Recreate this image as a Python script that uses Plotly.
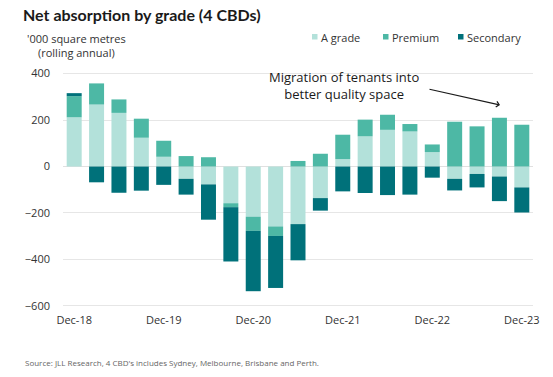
import plotly.graph_objects as go

quarters = ["Dec-18", "Mar-19", "Jun-19", "Sep-19", "Dec-19", "Mar-20", "Jun-20", "Sep-20",
            "Dec-20", "Mar-21", "Jun-21", "Sep-21", "Dec-21", "Mar-22", "Jun-22", "Sep-22",
            "Dec-22", "Mar-23", "Jun-23", "Sep-23", "Dec-23"]
a_grade = [212, 267, 231, 124, 42, -53, -77, -158, -216, -258, -248, -136, 32, 130, 158, 151,
           62, -53, -32, -43, -90]
premium = [91, 91, 58, 82, 69, 45, 40, -17, -61, -41, 24, 55, 105, 72, 65, 32,
           33, 193, 173, 210, 180]
secondary = [13, -68, -113, -104, -79, -68, -152, -234, -260, -224, -156, -54, -107, -114, -123, -121,
             -48, -50, -58, -106, -108]
tick_labels = ["Dec-18", "Dec-19", "Dec-20", "Dec-21", "Dec-22", "Dec-23"]
series_names = ["A grade", "Premium", "Secondary"]

colors = {"A grade": "#B3E1DA", "Premium": "#4DB8A5", "Secondary": "#00717A"}
body_font = "Open Sans"
title_font = "Lato"

W, H = 553, 377
L, R, T, B = 63, 20, 69, 70

fig = go.Figure()
for name, vals in zip(series_names, [a_grade, premium, secondary]):
    fig.add_trace(go.Bar(x=quarters, y=vals, name=name, marker_color=colors[name],
                         marker_line_width=0, showlegend=False))

fig.update_layout(
    width=W, height=H,
    barmode="relative", bargap=0.33,
    plot_bgcolor="white", paper_bgcolor="white",
    margin=dict(l=L, r=R, t=T, b=B, autoexpand=False),
    font=dict(family=body_font, size=11, color="#333333"),
    title=dict(text="<b>Net absorption by grade (4 CBDs)</b>", x=0, xref="container",
               xanchor="left", y=1 - 15 / H, yanchor="middle", pad=dict(l=23),
               font=dict(family=title_font, size=16, color="#1a1a1a")),
    showlegend=False,
    xaxis=dict(type="category", tickmode="array", tickvals=tick_labels, ticktext=tick_labels,
               showgrid=False, showline=False, ticks="", tickfont=dict(size=11),
               range=[-0.5, 20.5], automargin=False, ticklabelstandoff=5),
    yaxis=dict(range=[-605, 420], tickvals=[-600, -400, -200, 0, 200, 400],
               showgrid=True, gridcolor="#e6e6e6", zeroline=True, zerolinecolor="#e0e0e0",
               zerolinewidth=1, showline=False, ticks="", tickfont=dict(size=11),
               automargin=False, ticklabelstandoff=12),
)

# custom legend (small squares + labels), in pixel-based paper coordinates
pw, ph = W - L - R, H - T - B
def px_x(x):
    return (x - L) / pw
def px_y(y):
    return (H - B - y) / ph

legend_pos = [312, 383, 458]
for name, x0 in zip(series_names, legend_pos):
    fig.add_shape(type="rect", xref="paper", yref="paper",
                  x0=px_x(x0), x1=px_x(x0 + 5.5), y0=px_y(39.5), y1=px_y(34),
                  fillcolor=colors[name], line_width=0)
    fig.add_annotation(text=name, xref="paper", yref="paper", x=px_x(x0 + 7), y=px_y(37),
                       xanchor="left", yanchor="middle", showarrow=False,
                       font=dict(size=11, color="#333333"))

fig.add_annotation(text="'000 square metres<br>(rolling annual)", xref="paper", yref="paper",
                   x=px_x(76), y=px_y(46), xanchor="center", yanchor="middle", showarrow=False,
                   align="center", font=dict(size=11, color="#333333"))
fig.add_annotation(text="Migration of tenants into<br>better quality space", xref="paper", yref="paper",
                   x=px_x(344), y=px_y(85), xanchor="center", yanchor="middle", showarrow=False,
                   align="center", font=dict(size=13, color="#1a1a1a"))
fig.add_annotation(x=px_x(500), y=px_y(105), xref="paper", yref="paper", ax=-72, ay=-16, text="",
                   showarrow=True, arrowhead=4, arrowsize=1.0, arrowwidth=1.1, arrowcolor="#1a1a1a")
fig.add_annotation(text="Source: JLL Research, 4 CBD's includes Sydney, Melbourne, Brisbane and Perth.",
                   xref="paper", yref="paper", x=px_x(23), y=px_y(362), xanchor="left", yanchor="middle",
                   showarrow=False, font=dict(size=8, color="#666666"))

fig.write_html("out.html", config={"displayModeBar": False},
               post_script="document.body.style.margin='0';")
